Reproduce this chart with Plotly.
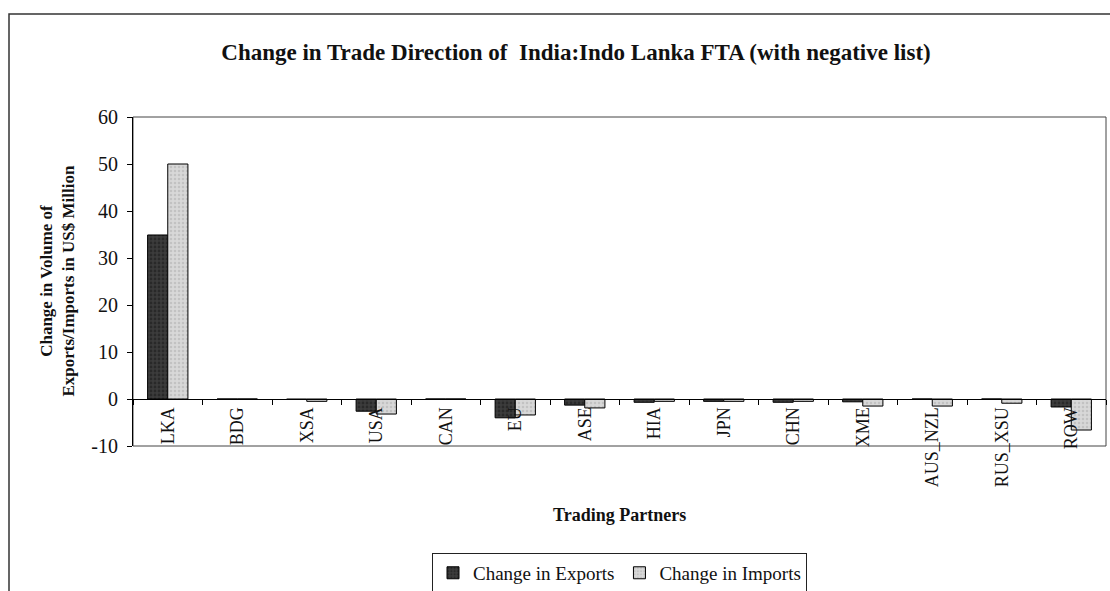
import plotly.graph_objects as go

# Trading partners on the category axis
partners = ["LKA", "BDG", "XSA", "USA", "CAN", "EU", "ASE", "HIA", "JPN",
            "CHN", "XME", "AUS_NZL", "RUS_XSU", "ROW"]

# Change in volume, US$ million
exports_change = [34.9, 0.0, -0.1, -2.6, 0.0, -4.0, -1.3, -0.7, -0.5,
                  -0.7, -0.6, 0.0, 0.0, -1.7]
imports_change = [50.0, 0.0, -0.5, -3.2, 0.0, -3.4, -1.9, -0.5, -0.5,
                  -0.5, -1.5, -1.5, -0.9, -6.6]

y_ticks = [-10, 0, 10, 20, 30, 40, 50, 60]
y_tick_labels = [str(v) for v in y_ticks]

SERIF = "Liberation Serif, Times New Roman, serif"

fig = go.Figure()
fig.add_trace(go.Bar(
    x=partners, y=exports_change, name="Change in Exports",
    marker=dict(color="#3c3c3c", line=dict(color="#000000", width=1),
                pattern=dict(shape=".", fgcolor="#161616", size=4, solidity=0.4)),
))
fig.add_trace(go.Bar(
    x=partners, y=imports_change, name="Change in Imports",
    marker=dict(color="#d8d8d8", line=dict(color="#000000", width=1),
                pattern=dict(shape=".", fgcolor="#ababab", size=4, solidity=0.35)),
))

fig.update_layout(
    width=1110, height=591,
    margin=dict(l=133, r=4, t=117, b=145, autoexpand=False),
    paper_bgcolor="white", plot_bgcolor="white",
    barmode="group", bargap=0.42, bargroupgap=0.0,
    font=dict(family=SERIF, size=18, color="#111111"),
    title=dict(
        text="<b>Change in Trade Direction of  India:Indo Lanka FTA (with negative list)</b>",
        x=576 / 1110, xanchor="center", xref="container",
        y=1 - 52 / 591, yanchor="middle", yref="container",
        font=dict(family=SERIF, size=23, color="#111111"),
    ),
    showlegend=True,
    legend=dict(
        orientation="h", x=0.5, xanchor="center", y=-0.325, yanchor="top",
        bordercolor="#222222", borderwidth=1, bgcolor="white",
        font=dict(family=SERIF, size=19), traceorder="normal",
        itemwidth=30, tracegroupgap=0,
    ),
    xaxis=dict(
        type="category", anchor="free", position=10 / 70, automargin=False,
        showline=True, linecolor="#000000", linewidth=1,
        ticks="outside", tickson="boundaries", ticklen=5, tickcolor="#000000",
        tickangle=-90, showgrid=False, zeroline=False,
        tickfont=dict(family=SERIF, size=18),
    ),
    yaxis=dict(
        range=[-10, 60], tickvals=y_ticks, ticktext=y_tick_labels,
        domain=[0, 1], automargin=False,
        showline=True, linecolor="#000000", linewidth=1,
        ticks="outside", ticklen=5, tickcolor="#000000",
        ticklabelstandoff=5,
        showgrid=False, zeroline=False,
        tickfont=dict(family=SERIF, size=20),
    ),
    annotations=[
        dict(text="<b>Change in Volume of<br>Exports/Imports in US$ Million</b>",
             xref="paper", yref="paper", x=(57 - 133) / 973, y=0.5,
             xanchor="center", yanchor="middle", textangle=-90, showarrow=False,
             font=dict(family=SERIF, size=17)),
        dict(text="<b>Trading Partners</b>",
             xref="paper", yref="paper", x=0.5, y=(446 - 515) / 329,
             xanchor="center", yanchor="middle", showarrow=False,
             font=dict(family=SERIF, size=18)),
    ],
    shapes=[
        # plot area frame
        dict(type="rect", xref="paper", yref="paper", x0=0, y0=0, x1=1, y1=1,
             line=dict(color="#444444", width=1), layer="below"),
        # outer chart frame
        dict(type="rect", xref="paper", yref="paper",
             x0=(9 - 133) / 973, x1=(1120 - 133) / 973,
             y0=(446 - 600) / 329, y1=(446 - 14) / 329,
             line=dict(color="#333333", width=1.5), layer="below"),
    ],
)

fig.write_html("out.html")
